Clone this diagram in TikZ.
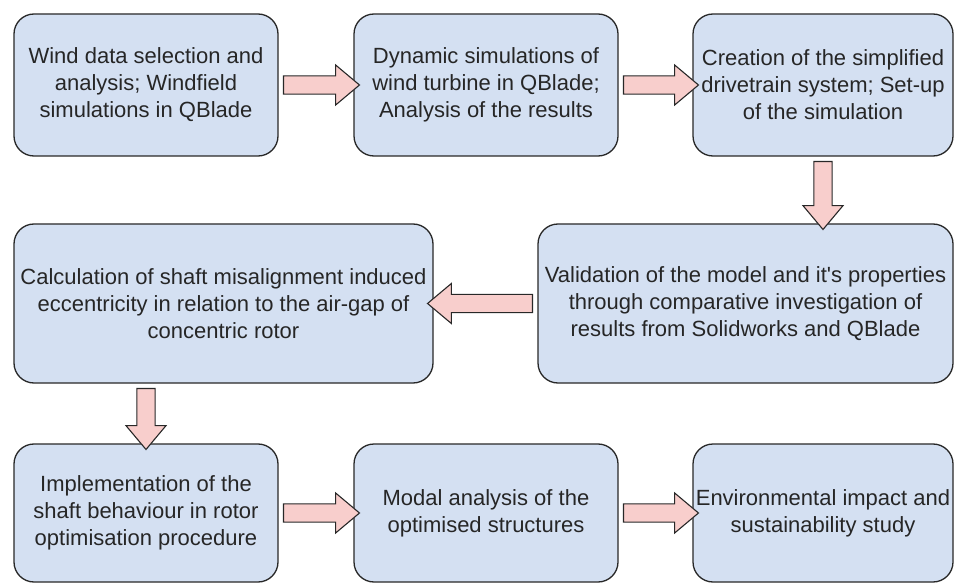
\documentclass[tikz,border=0pt]{standalone}
\usepackage{fontspec}
\setmainfont{Liberation Sans}
\usetikzlibrary{shapes.arrows}
\definecolor{boxfill}{RGB}{212,224,242}
\definecolor{boxline}{RGB}{40,40,40}
\definecolor{arrfill}{RGB}{248,206,204}
\begin{document}
\begin{tikzpicture}[x=1pt, y=-1pt,
    stage/.style={draw=boxline, fill=boxfill, line width=1.3pt, rounded corners=20pt, align=center, inner sep=2pt, text=black!85, font=\fontsize{22}{27}\selectfont},
    fatarrow/.style={single arrow, draw=boxline, fill=arrfill, line width=1.1pt, minimum height=#1, minimum width=40pt, single arrow tip angle=80, inner sep=0pt, inner ysep=5.5pt, text height=0pt, text depth=0pt, sloped, allow upside down}]
    \useasboundingbox (0, 0) rectangle (954, 583);
    \node [stage, minimum width=264pt, minimum height=142pt] (wind) at (146, 85) {Wind data selection and\\analysis; Windfield\\simulations in QBlade};
    \node [stage, minimum width=264pt, minimum height=142pt] (dyn) at (486, 85) {Dynamic simulations of\\wind turbine in QBlade;\\Analysis of the results};
    \node [stage, minimum width=260pt, minimum height=142pt] (drive) at (823, 85) {Creation of the simplified\\drivetrain system; Set-up\\of the simulation};
    \node [stage, minimum width=415pt, minimum height=159pt] (valid) at (745.5, 303.5) {Validation of the model and it\textquotesingle s properties\\through comparative investigation of\\results from Solidworks and QBlade};
    \node [stage, minimum width=419pt, minimum height=159pt] (calc) at (223.5, 303.5) {Calculation of shaft misalignment induced\\eccentricity in relation to the air-gap of\\concentric rotor};
    \node [stage, minimum width=264pt, minimum height=138pt] (impl) at (146, 513) {Implementation of the\\shaft behaviour in rotor\\optimisation procedure};
    \node [stage, minimum width=264pt, minimum height=138pt] (modal) at (486, 513) {Modal analysis of the\\optimised structures};
    \node [stage, minimum width=260pt, minimum height=138pt] (env) at (823, 513) {Environmental impact and\\sustainability study};
    \path (wind) -- (dyn) node [fatarrow=76pt, midway] (a1) {};
    \path (dyn) -- (drive) node [fatarrow=75pt, midway] (a2) {};
    \path (drive.south) -- (drive.south |- valid.north) node [fatarrow=68pt, midway] (a3) {};
    \path (valid) -- (calc) node [fatarrow=105pt, midway] (a4) {};
    \path (impl.north |- calc.south) -- (impl.north) node [fatarrow=61pt, midway] (a5) {};
    \path (impl) -- (modal) node [fatarrow=76pt, midway] (a6) {};
    \path (modal) -- (env) node [fatarrow=75pt, midway] (a7) {};
\end{tikzpicture}
\end{document}
